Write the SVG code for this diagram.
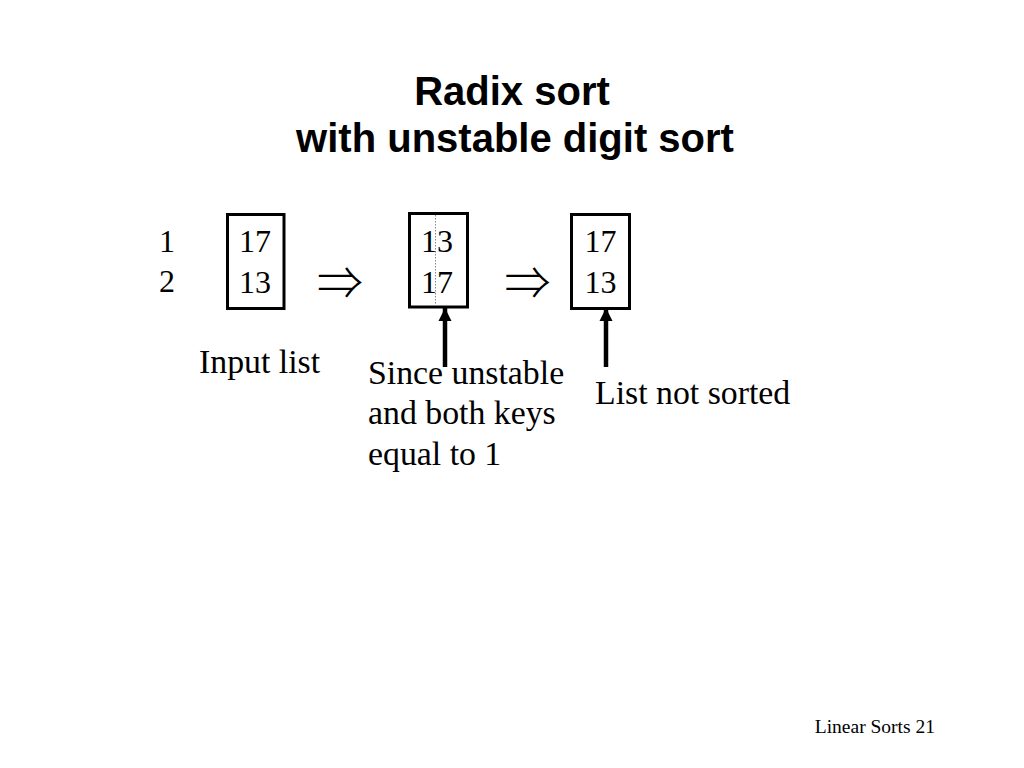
<svg xmlns="http://www.w3.org/2000/svg" width="1024" height="768" viewBox="0 0 1024 768">
<defs>
<style>
.title{font-family:"Liberation Sans",Arial,sans-serif;font-weight:bold;font-size:40px;fill:#000;text-anchor:middle}
.t{font-family:"Liberation Serif","Times New Roman",serif;font-size:32px;fill:#000}
.lbl{font-family:"Liberation Serif","Times New Roman",serif;font-size:33.8px;fill:#000}
.c{text-anchor:middle}
.box{fill:#fff;stroke:#000;stroke-width:3}
.imp{font-family:"Noto Sans CJK JP","DejaVu Sans",sans-serif;font-weight:300;font-size:46px;fill:#000;text-anchor:middle}
.conn{stroke:#000;stroke-width:4.5;fill:none}
.foot{font-family:"Liberation Serif","Times New Roman",serif;font-size:19.5px;fill:#000;text-anchor:end}
</style>
<marker id="ah" viewBox="0 0 10 10" refX="10" refY="5" markerUnits="userSpaceOnUse" markerWidth="13" markerHeight="14" orient="auto">
<path d="M0,0 L10,5 L0,10 Z" fill="#000"/>
</marker>
</defs>
<rect width="1024" height="768" fill="#fff"/>
<g id="title">
<text class="title" x="512" y="105">Radix sort</text>
<text class="title" x="515" y="152">with unstable digit sort</text>
</g>
<g id="index">
<text class="t" x="167" y="252" text-anchor="middle">1</text>
<text class="t" x="167" y="292" text-anchor="middle">2</text>
</g>
<g id="list1">
<rect class="box" x="227.5" y="214.5" width="56.5" height="94"/>
<text class="t c" x="255" y="252">17</text>
<text class="t c" x="255" y="293">13</text>
</g>
<g id="implies1"><text class="imp" x="340" y="299">⇒</text></g>
<g id="list2">
<rect class="box" x="409.5" y="213.5" width="58" height="93.5"/>
<line x1="435.5" y1="215" x2="435.5" y2="305.5" stroke="#888" stroke-width="1" stroke-dasharray="1.5 1.5"/>
<text class="t c" x="437" y="251.5">13</text>
<text class="t c" x="437" y="292.5">17</text>
</g>
<g id="implies2"><text class="imp" x="527.5" y="299">⇒</text></g>
<g id="list3">
<rect class="box" x="571.5" y="214.5" width="58" height="94"/>
<text class="t c" x="600.5" y="252">17</text>
<text class="t c" x="600.5" y="293">13</text>
</g>
<g id="note-input"><text class="lbl" x="199" y="373">Input list</text></g>
<g id="note-unstable">
<text class="lbl" x="368" y="384">Since unstable</text>
<text class="lbl" x="368" y="424">and both keys</text>
<text class="lbl" x="368" y="465">equal to 1</text>
</g>
<g id="note-sorted"><text class="lbl" x="595" y="404">List not sorted</text></g>
<g id="connectors">
<line class="conn" x1="445" y1="367" x2="445" y2="308" marker-end="url(#ah)"/>
<line class="conn" x1="606" y1="367" x2="606" y2="308" marker-end="url(#ah)"/>
</g>
<g id="footer"><text class="foot" x="935" y="733">Linear Sorts 21</text></g>
</svg>
